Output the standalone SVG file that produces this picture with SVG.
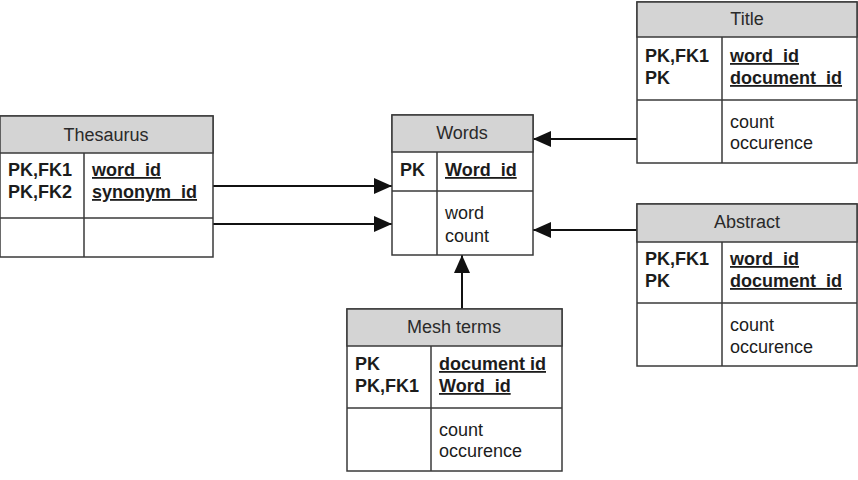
<svg xmlns="http://www.w3.org/2000/svg" width="858" height="480" viewBox="0 0 858 480">
<defs>
<marker id="arr" viewBox="0 0 18 16" refX="18" refY="8" markerWidth="18" markerHeight="16" markerUnits="userSpaceOnUse" orient="auto">
<path d="M0,0 L18,8 L0,16 Z" fill="#111"/>
</marker>
<style>
.box{fill:#fff;stroke:#3a3a3a;stroke-width:1.5}
.hdr{fill:#d4d4d4;stroke:#3a3a3a;stroke-width:1.5}
.ln{stroke:#3a3a3a;stroke-width:1.5;fill:none}
.t{font-family:"Liberation Sans",Arial,sans-serif;font-size:18px;fill:#1c1c1c}
.h{font-family:"Liberation Sans",Arial,sans-serif;font-size:18px;fill:#2a2a2a;text-anchor:middle}
.b{font-weight:bold}
.u{text-decoration:underline}
.c{stroke:#111;stroke-width:2;fill:none}
</style>
</defs>
<rect width="858" height="480" fill="#fff"/>
<g id="connectors">
<line class="c" x1="213" y1="186" x2="392" y2="186" marker-end="url(#arr)"/>
<line class="c" x1="213" y1="224" x2="392" y2="224" marker-end="url(#arr)"/>
<line class="c" x1="637" y1="139" x2="533" y2="139" marker-end="url(#arr)"/>
<line class="c" x1="637" y1="230" x2="533" y2="230" marker-end="url(#arr)"/>
<line class="c" x1="462" y1="309" x2="462" y2="255" marker-end="url(#arr)"/>
</g>
<g id="thesaurus">
<rect class="box" x="0" y="116" width="213" height="141"/>
<rect class="hdr" x="0" y="116" width="213" height="37"/>
<line class="ln" x1="0" y1="218" x2="213" y2="218"/>
<line class="ln" x1="84" y1="153" x2="84" y2="257"/>
<text class="h" x="106" y="141">Thesaurus</text>
<text class="t b" x="8" y="176">PK,FK1</text>
<text class="t b" x="8" y="198">PK,FK2</text>
<text class="t b u" x="92" y="176">word_id</text>
<text class="t b u" x="92" y="198">synonym_id</text>
</g>
<g id="words">
<rect class="box" x="392" y="115" width="141" height="140"/>
<rect class="hdr" x="392" y="115" width="141" height="37"/>
<line class="ln" x1="392" y1="191" x2="533" y2="191"/>
<line class="ln" x1="437" y1="152" x2="437" y2="255"/>
<text class="h" x="462" y="139">Words</text>
<text class="t b" x="400" y="176">PK</text>
<text class="t b u" x="445" y="176">Word_id</text>
<text class="t" x="445" y="219">word</text>
<text class="t" x="445" y="242">count</text>
</g>
<g id="title">
<rect class="box" x="637" y="2" width="220" height="161"/>
<rect class="hdr" x="637" y="2" width="220" height="35"/>
<line class="ln" x1="637" y1="100" x2="857" y2="100"/>
<line class="ln" x1="722" y1="37" x2="722" y2="163"/>
<text class="h" x="747" y="25">Title</text>
<text class="t b" x="645" y="62">PK,FK1</text>
<text class="t b" x="645" y="84">PK</text>
<text class="t b u" x="730" y="62">word_id</text>
<text class="t b u" x="730" y="84">document_id</text>
<text class="t" x="730" y="128">count</text>
<text class="t" x="730" y="149">occurence</text>
</g>
<g id="abstract">
<rect class="box" x="637" y="204" width="220" height="162"/>
<rect class="hdr" x="637" y="204" width="220" height="38"/>
<line class="ln" x1="637" y1="303" x2="857" y2="303"/>
<line class="ln" x1="722" y1="242" x2="722" y2="366"/>
<text class="h" x="747" y="228">Abstract</text>
<text class="t b" x="645" y="265">PK,FK1</text>
<text class="t b" x="645" y="287">PK</text>
<text class="t b u" x="730" y="265">word_id</text>
<text class="t b u" x="730" y="287">document_id</text>
<text class="t" x="730" y="331">count</text>
<text class="t" x="730" y="353">occurence</text>
</g>
<g id="meshterms">
<rect class="box" x="347" y="309" width="215" height="162"/>
<rect class="hdr" x="347" y="309" width="215" height="37"/>
<line class="ln" x1="347" y1="408" x2="562" y2="408"/>
<line class="ln" x1="431" y1="346" x2="431" y2="471"/>
<text class="h" x="454" y="333">Mesh terms</text>
<text class="t b" x="355" y="370">PK</text>
<text class="t b" x="355" y="392">PK,FK1</text>
<text class="t b u" x="439" y="370">document id</text>
<text class="t b u" x="439" y="392">Word_id</text>
<text class="t" x="439" y="436">count</text>
<text class="t" x="439" y="457">occurence</text>
</g>
</svg>
